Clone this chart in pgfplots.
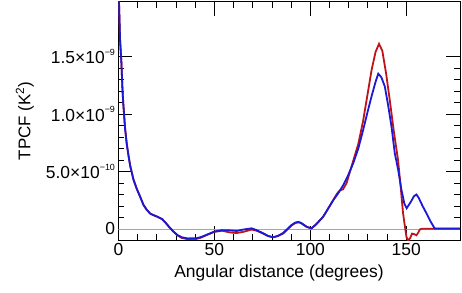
\documentclass[border=0pt]{standalone}
\usepackage{fontspec}
\setmainfont{Liberation Sans}
\usepackage{pgfplots}
\pgfplotsset{compat=1.18}
\definecolor{cred}{RGB}{190,20,25}
\definecolor{cblue}{RGB}{25,25,215}
\newcommand\sups[1]{\raisebox{0.5em}{\fontsize{9}{9}\selectfont #1}}
\begin{document}
\begin{tikzpicture}
\begin{axis}[
  scale only axis, width=341.5bp, height=238bp,
  xmin=0, xmax=178, ymin=-0.957, ymax=19.74,
  xtick={0,50,100,150}, xticklabels={0,50,100,150},
  minor x tick num=4,
  ytick={0,5,10,15},
  yticklabels={0,{5.0×10\sups{−10}},{1.0×10\sups{−9}},{1.5×10\sups{−9}}},
  minor y tick num=4,
  tick align=inside,
  major tick length=14bp, minor tick length=6bp,
  axis line style={line width=1bp},
  every tick/.style={black, line width=0.9bp},
  tick label style={font=\fontsize{17.5}{20}\selectfont},
  xlabel={Angular distance (degrees)},
  ylabel={TPCF (K\textsuperscript{2})},
  every axis x label/.style={at={(axis description cs:0.47,-0.139)}, anchor=center, font=\fontsize{17.5}{20}\selectfont},
  every axis y label/.style={at={(axis description cs:-0.274,0.5)}, anchor=center, rotate=90, font=\fontsize{17}{20}\selectfont},
]
\addplot[gray!70, line width=0.8bp, forget plot] coordinates {(0,0) (178,0)};
% red series
\addplot[cred, line width=1.8bp] coordinates {
(0,22) (0.3,19.5) (0.8,16.5) (1.5,14.5) (2.1,12) (2.5,10.9) (3.4,8.8) (4.3,7.4) (5.2,6.4) (6.1,5.5) (7.8,4.3) (9.5,3.5) (11.3,2.8) (13,2.1) (14.8,1.65) (16.5,1.35) (18.3,1.2) (20.5,1.05) (22.8,0.85) (24.5,0.55) (26.3,0.2) (28.5,-0.2) (30.7,-0.55) (33,-0.78) (36,-0.88) (40.7,-0.86) (43,-0.75) (46,-0.52) (50,-0.25) (54,-0.15) (58,-0.3) (61.6,-0.35) (65,-0.25) (69.4,-0.05) (72,-0.15) (75.4,-0.4) (78,-0.62) (80.6,-0.72) (83,-0.62) (85.8,-0.4) (88,-0.05) (90.2,0.3) (92,0.5) (93.6,0.58) (95,0.52) (98,0.2) (100.5,0.05) (103,0.4) (106.7,1.07) (109,1.7) (111.9,2.5) (114,3.1) (115.4,3.35) (117,3.45) (118.9,4.0) (120.5,4.9) (122.3,5.9) (125,7.4) (127.5,9.4) (130,11.9) (132,13.9) (134,15.4) (135.8,16.1) (137.5,15.5) (139.5,13.5) (141.4,11.2) (143.5,8.5) (145.7,6.0) (147,3.8) (148.3,1.4) (149.3,0.2) (150.1,-0.7) (151,-1.0) (152,-0.8) (153,-0.4) (154.2,-0.45) (155.3,-0.55) (156.3,-0.3) (157,-0.05) (158,0.02) (178,0.02)
};
% blue series
\addplot[cblue, line width=1.8bp] coordinates {
(0,22) (0.3,19.5) (0.8,16.5) (1.5,14.5) (2.1,12) (2.5,10.9) (3.4,8.8) (4.3,7.4) (5.2,6.4) (6.1,5.5) (7.8,4.3) (9.5,3.5) (11.3,2.8) (13,2.1) (14.8,1.65) (16.5,1.35) (18.3,1.2) (20.5,1.05) (22.8,0.85) (24.5,0.55) (26.3,0.2) (28.5,-0.2) (30.7,-0.52) (33,-0.72) (36,-0.82) (40.7,-0.8) (43,-0.7) (46,-0.5) (50,-0.22) (54,-0.1) (58,-0.12) (61.6,-0.17) (65,-0.05) (69.4,0.06) (72,-0.1) (75.4,-0.37) (78,-0.6) (80.6,-0.72) (83,-0.6) (85.8,-0.35) (88,0) (90.2,0.35) (92,0.55) (93.6,0.62) (95,0.55) (98,0.2) (100.5,0.05) (103,0.4) (106.7,1.07) (109,1.7) (111.9,2.5) (114.5,3.1) (117.1,3.8) (119.5,4.6) (122.3,5.7) (125,7.0) (127.5,8.6) (130,10.3) (132,11.6) (134,12.8) (135.4,13.5) (137,13.2) (138.8,12.4) (140.5,10.8) (142.3,8.9) (144,6.6) (145.7,5.2) (147.5,3.4) (149,2.2) (150.2,1.8) (152.5,2.4) (154,2.85) (155.3,3.0) (156.5,2.7) (158.5,2.0) (160.5,1.37) (162.5,0.7) (164.8,0.05) (178,0.05)
};
\end{axis}
\pgfresetboundingbox
\path (current axis.south west) ++(-118.5bp,-53bp) rectangle ++(462bp,293bp);
\end{tikzpicture}
\end{document}
